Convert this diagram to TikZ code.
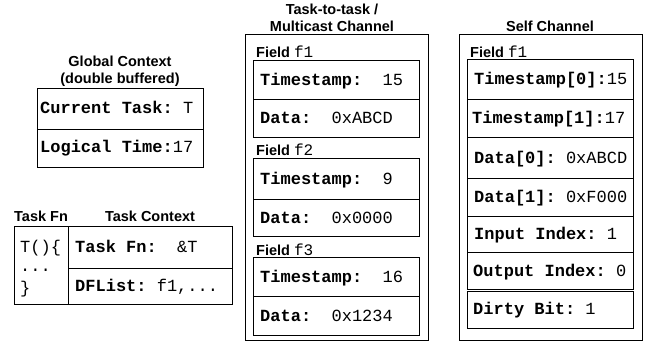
\documentclass[tikz,border=0pt]{standalone}
\usepackage{fontspec}
\setmainfont{Liberation Sans}
\setmonofont{Liberation Mono}
\begin{document}
\begin{tikzpicture}[x=1pt,y=-1pt,
  title/.style={font=\fontsize{14.5}{17}\selectfont\bfseries, anchor=base, inner sep=0pt},
  lefttitle/.style={font=\fontsize{14.5}{17}\selectfont\bfseries, anchor=base west, inner sep=0pt},
  mono/.style={font=\fontsize{17}{20}\selectfont\ttfamily, anchor=base west, inner sep=0pt},
  fieldlbl/.style={font=\fontsize{14.5}{17}\selectfont, anchor=base west, inner sep=0pt},
  box/.style={draw, line width=0.9pt}]
\useasboundingbox (0,0) rectangle (649,343);

% ---------- Global Context ----------
\node[title] (gt1) at (120,66) {Global Context};
\node[title] (gt2) at (120,83) {(double buffered)};
\draw[box] (37,88) rectangle (203,167);
\draw[box] (37,129) -- (203,129);
\node[mono] (gct) at (40,113) {\textbf{Current Task:} T};
\node[mono] (glt) at (40,152) {\textbf{Logical Time:}17};

% ---------- Task Fn / Task Context ----------
\node[lefttitle] (tfl) at (14,221) {Task Fn};
\node[title] (tcl) at (150,221) {Task Context};
\draw[box] (14,226) rectangle (232,304);
\draw[box] (68,226) -- (68,304);
\draw[box] (68,268) -- (232,268);
\node[mono] (tf1) at (20,252) {T()\{};
\node[mono] (tf2) at (20,271) {...};
\node[mono] (tf3) at (20,293) {\}};
\node[mono] (tcf) at (75,252) {\textbf{Task Fn:}~~\&T};
\node[mono] (tcd) at (75,291) {\textbf{DFList:} f1,...};

% ---------- Task-to-task / Multicast Channel ----------
\node[title] (mt1) at (332,14) {Task-to-task /};
\node[title] (mt2) at (332,31) {Multicast Channel};
\draw[box] (245,34) rectangle (428,340);
% f1
\node[fieldlbl] (mf1) at (256,57) {\textbf{Field} {\ttfamily\fontsize{16}{19}\selectfont f1}};
\draw[box] (253,60) rectangle (419,137);
\draw[box] (253,99) -- (419,99);
\node[mono] (m1t) at (260,85) {\textbf{Timestamp:}~~15};
\node[mono] (m1d) at (260,123) {\textbf{Data:}~~0xABCD};
% f2
\node[fieldlbl] (mf2) at (256,155) {\textbf{Field} {\ttfamily\fontsize{16}{19}\selectfont f2}};
\draw[box] (253,158) rectangle (419,236);
\draw[box] (253,199) -- (419,199);
\node[mono] (m2t) at (260,184) {\textbf{Timestamp:}~~9};
\node[mono] (m2d) at (260,223) {\textbf{Data:}~~0x0000};
% f3
\node[fieldlbl] (mf3) at (256,255) {\textbf{Field} {\ttfamily\fontsize{16}{19}\selectfont f3}};
\draw[box] (253,257) rectangle (419,335);
\draw[box] (253,296) -- (419,296);
\node[mono] (m3t) at (260,282) {\textbf{Timestamp:}~~16};
\node[mono] (m3d) at (260,321) {\textbf{Data:}~~0x1234};

% ---------- Self Channel ----------
\node[title] (st) at (550,31) {Self Channel};
\draw[box] (459,34) rectangle (642,340);
\node[fieldlbl] (sf1) at (470,57) {\textbf{Field} {\ttfamily\fontsize{16}{19}\selectfont f1}};
\draw[box] (467,59) rectangle (633,289);
\draw[box] (467,99) -- (633,99);
\draw[box] (467,137) -- (633,137);
\draw[box] (467,178) -- (633,178);
\draw[box] (467,216) -- (633,216);
\draw[box] (467,252) -- (633,252);
\draw[box] (467,291) rectangle (633,328);
\node[mono] (s1) at (474,84) {\textbf{Timestamp[0]:}15};
\node[mono] (s2) at (472,123) {\textbf{Timestamp[1]:}17};
\node[mono] (s3) at (474,163) {\textbf{Data[0]:} 0xABCD};
\node[mono] (s4) at (474,202) {\textbf{Data[1]:} 0xF000};
\node[mono] (s5) at (474,239) {\textbf{Input Index:} 1};
\node[mono] (s6) at (473,276) {\textbf{Output Index:} 0};
\node[mono] (s7) at (473,314) {\textbf{Dirty Bit:} 1};
\end{tikzpicture}
\end{document}
